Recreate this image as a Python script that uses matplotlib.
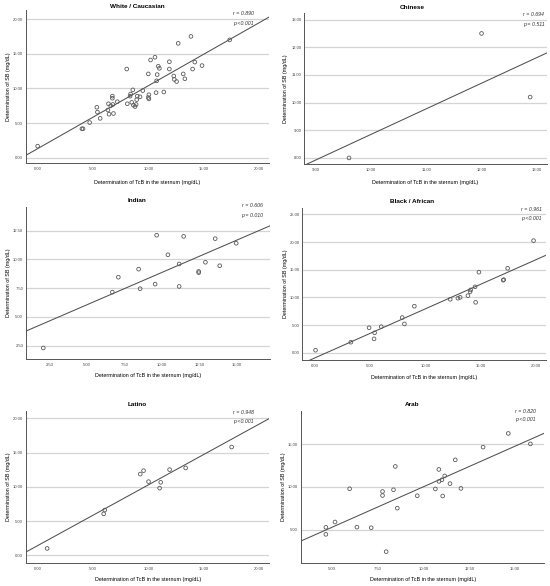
import matplotlib
matplotlib.use("Agg")
import matplotlib.pyplot as plt
import numpy as np

plt.rcParams['font.family'] = ['Liberation Sans', 'DejaVu Sans']

W, H = 550, 586

# ---- data (TcB sternum vs SB, mg/dL) ----
white_x = [0.0, 4.0, 4.1, 4.7, 5.35, 5.4, 5.65, 6.35, 6.4, 6.45, 6.6, 6.75, 6.75, 6.8,
           6.85, 7.2, 8.05, 8.1, 8.35, 8.4, 8.5, 8.6, 8.65, 8.8, 8.9, 8.95, 9.0, 9.25,
           9.5, 10.0, 10.0, 10.05, 10.05, 10.2, 10.6, 10.7, 10.75, 10.8, 10.9, 11.0,
           11.4, 11.9, 11.9, 12.3, 12.35, 12.55, 12.7, 13.15, 13.3, 13.85, 14.0, 14.2,
           14.85, 17.35]
white_y = [1.7, 4.2, 4.2, 5.1, 7.3, 6.6, 5.7, 6.9, 7.8, 6.3, 7.5, 8.9, 8.6, 7.7,
           6.4, 8.1, 12.8, 7.8, 8.9, 9.2, 8.0, 9.8, 7.6, 7.4, 7.7, 8.4, 8.9, 8.8,
           9.7, 12.1, 8.7, 9.1, 8.5, 14.1, 14.5, 9.4, 11.1, 12.0, 13.2, 12.9,
           9.5, 13.85, 12.8, 11.8, 11.3, 11.0, 16.5, 12.1, 11.4, 17.5, 12.8, 13.8,
           13.3, 17.0]

chinese_x = [9.6, 12.0, 12.88]
chinese_y = [8.0, 12.5, 10.2]

indian_x = [2.1, 6.7, 7.1, 8.45, 8.55, 9.55, 9.65, 10.4, 11.15, 11.15, 11.45, 12.45,
            12.45, 12.9, 13.55, 13.85, 14.95]
indian_y = [2.3, 7.15, 8.45, 9.15, 7.45, 7.85, 12.1, 10.4, 9.6, 7.65, 12.0, 8.95,
            8.85, 9.75, 11.8, 9.45, 11.4]

black_x = [0.05, 3.25, 4.9, 5.35, 5.4, 6.0, 7.9, 8.1, 9.0, 12.25, 12.95, 13.15, 13.85,
           14.05, 14.1, 14.5, 14.55, 14.85, 17.05, 17.1, 17.45, 19.8]
black_y = [0.45, 1.9, 4.5, 2.5, 3.6, 4.7, 6.35, 5.2, 8.4, 9.65, 9.85, 10.0, 10.3,
           11.0, 11.35, 11.9, 9.1, 14.55, 13.1, 13.2, 15.25, 20.25]

latino_x = [0.85, 5.95, 6.05, 9.25, 9.55, 10.0, 11.0, 11.1, 11.9, 13.35, 17.5]
latino_y = [1.0, 6.05, 6.6, 11.85, 12.35, 10.75, 9.8, 10.65, 12.5, 12.75, 15.8]

arab_x = [4.65, 4.65, 5.15, 5.95, 6.35, 7.13, 7.75, 7.75, 7.95, 8.35, 8.45, 8.56,
          9.65, 10.64, 10.83, 10.84, 11.0, 11.04, 11.15, 11.44, 11.73, 12.04,
          13.25, 14.63, 15.84]
arab_y = [5.26, 4.44, 5.88, 9.77, 5.28, 5.21, 9.45, 8.98, 2.41, 9.65, 12.38, 7.5,
          8.95, 9.75, 12.03, 10.63, 10.82, 8.92, 11.27, 10.37, 13.15, 9.81,
          14.64, 16.24, 15.02]

titles = ["White / Caucasian", "Chinese", "Indian", "Black / African", "Latino", "Arab"]
r_text = ["r = 0.890", "r = 0.694", "r = 0.606", "r = 0.961", "r = 0.948", "r = 0.820"]
p_text = ["p <0.001", "p = 0.511", "p = 0.010", "p <0.001", "p <0.001", "p <0.001"]
xs = [white_x, chinese_x, indian_x, black_x, latino_x, arab_x]
ys = [white_y, chinese_y, indian_y, black_y, latino_y, arab_y]

# ---- layout (pixels: left, top, right, bottom) ----
rects = [(26, 10, 269, 163.3), (304.3, 12.7, 546.7, 164.3),
         (26, 206.7, 270, 359), (302.3, 207.7, 545.7, 360),
         (26, 410.7, 269.3, 562.7), (301, 410.7, 544.3, 562.7)]
xlims = [(-1.05, 20.9), (8.79, 13.18), (0.95, 17.2), (-1.15, 20.9), (-1.06, 20.9), (3.29, 16.6)]
ylims = [(-0.77, 21.3), (7.77, 13.25), (1.34, 14.58), (-1.32, 26.2), (-1.08, 21.1), (1.12, 18.9)]
xticks = [np.arange(0, 21, 5), np.arange(9, 14, 1), np.arange(2.5, 15.1, 2.5),
          np.arange(0, 21, 5), np.arange(0, 21, 5), np.arange(5, 15.1, 2.5)]
yticks = [np.arange(0, 21, 5), np.arange(8, 13.1, 1), np.arange(2.5, 12.6, 2.5),
          np.arange(0, 26, 5), np.arange(0, 21, 5), np.arange(5, 15.1, 5)]
title_y = [6, 7.3, 201, 201.7, 405, 405]
xlab_y = [182.7, 182.7, 375.7, 377.7, 580, 580]
ylab_x = [8.3, 285, 8.3, 285, 8.3, 283]
ann_pos = [(0.938, 0.974, 0.913), (0.99, 0.99, 0.925), (0.972, 1.01, 0.945),
           (0.984, 0.99, 0.926), (0.937, 0.99, 0.932), (0.965, 0.998, 0.939)]

fig = plt.figure(figsize=(W / 100, H / 100), dpi=100)
fig.patch.set_facecolor('white')

for i in range(6):
    l, t, r, b = rects[i]
    ax = fig.add_axes([l / W, 1 - b / H, (r - l) / W, (b - t) / H])
    x = np.array(xs[i])
    y = np.array(ys[i])

    # fit line across the full x range
    k, c = np.polyfit(x, y, 1)
    xl = np.array(xlims[i])
    ax.plot(xl, k * xl + c, color='#505050', lw=0.75, zorder=2)
    ax.scatter(x, y, s=7, facecolors='none', edgecolors='#5a5a5a', linewidths=0.6, zorder=3)

    ax.set_xlim(xlims[i])
    ax.set_ylim(ylims[i])
    ax.set_xticks(xticks[i])
    ax.set_yticks(yticks[i])
    ax.set_xticklabels(["%.2f" % v for v in xticks[i]])
    ax.set_yticklabels(["%.2f" % v for v in yticks[i]])
    ax.tick_params(length=0, labelsize=3, colors='#444444', pad=3)
    ax.tick_params(axis='y', pad=2)
    ax.grid(axis='y', color='#d4d4d4', lw=0.9)
    ax.set_axisbelow(True)
    for s in ['top', 'right']:
        ax.spines[s].set_visible(False)
    for s in ['left', 'bottom']:
        ax.spines[s].set_color('#555555')
        ax.spines[s].set_linewidth(0.7)

    ax_, ry, py = ann_pos[i]
    ax.text(ax_, ry, r_text[i], transform=ax.transAxes, ha='right', va='center',
            fontsize=3.8, style='italic', color='#333333', clip_on=False)
    ax.text(ax_, py, p_text[i], transform=ax.transAxes, ha='right', va='center',
            fontsize=3.8, style='italic', color='#333333', clip_on=False)

    panel_cx = 137.5 if i % 2 == 0 else 412.5
    fig.text(panel_cx / W, 1 - title_y[i] / H, titles[i], ha='center', va='center',
             fontsize=4.6, fontweight='bold')
    fig.text((l + r) / 2 / W, 1 - xlab_y[i] / H, "Determination of TcB in the sternum (mg/dL)",
             ha='center', va='center', fontsize=3.9)
    fig.text(ylab_x[i] / W, 1 - (t + b) / 2 / H, "Determination of SB (mg/dL)",
             ha='center', va='center', rotation=90, fontsize=3.9)

fig.savefig("out.png", dpi=100, facecolor='white')
